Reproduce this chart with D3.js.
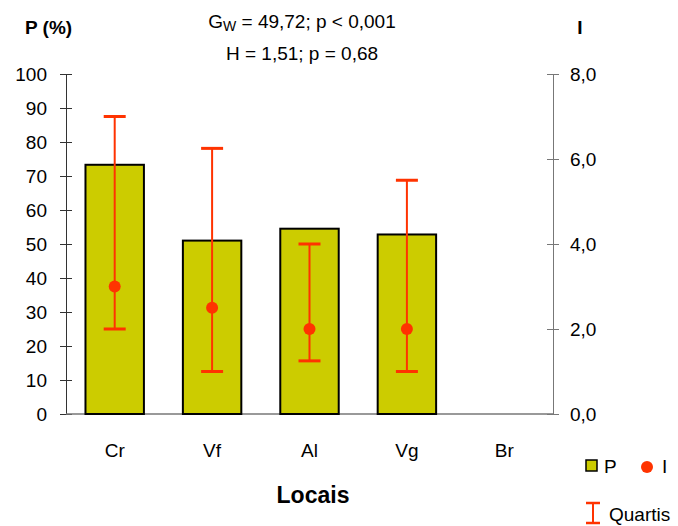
<!DOCTYPE html>
<html>
<head>
<meta charset="utf-8">
<script src="https://cdn.jsdelivr.net/npm/d3@7"></script>
<style>
  body { margin: 0; background: #fff; }
  text { font-family: "Liberation Sans", Arial, sans-serif; fill: #000; }
</style>
</head>
<body>
<div id="chart"></div>
<script>
// data
var locais = ["Cr", "Vf", "Al", "Vg", "Br"];
var pValues = [73.3, 51.0, 54.5, 52.8, null];
var iMedian = [3.0, 2.5, 2.0, 2.0, null];
var iQ1 = [2.0, 1.0, 1.25, 1.0, null];
var iQ3 = [7.0, 6.25, 4.0, 5.5, null];
var leftTicks = [0, 10, 20, 30, 40, 50, 60, 70, 80, 90, 100];
var rightTicks = [0, 2, 4, 6, 8];

var width = 678, height = 526;
var plotL = 66, plotR = 553, plotT = 74, plotB = 414;
var barColor = "#cccc00", errColor = "#ff3300";
var fs = "19px";

var svg = d3.select("#chart").append("svg")
  .attr("width", width).attr("height", height);

var x = d3.scaleBand().domain(locais).range([plotL, plotR]).paddingInner(0.4).paddingOuter(0.2);
var yP = d3.scaleLinear().domain([0, 100]).range([plotB, plotT]);
var yI = d3.scaleLinear().domain([0, 8]).range([plotB, plotT]);

var comma = function(d) { return d3.format(".1f")(d).replace(".", ","); };

// left axis
var gl = svg.append("g").attr("transform", "translate(" + plotL + ",0)")
  .call(d3.axisLeft(yP).tickValues(leftTicks).tickSizeInner(6).tickSizeOuter(0).tickPadding(13));
gl.select(".domain").attr("stroke", "#333");
gl.selectAll(".tick line").attr("stroke", "#333").attr("x2", 6).attr("x1", -6);
gl.selectAll(".tick text").style("font-size", fs);

// right axis
var gr = svg.append("g").attr("transform", "translate(" + plotR + ",0)")
  .call(d3.axisRight(yI).tickValues(rightTicks).tickFormat(comma).tickSizeInner(6).tickSizeOuter(0).tickPadding(11));
gr.select(".domain").attr("stroke", "#777");
gr.selectAll(".tick line").attr("stroke", "#777").attr("x1", -6).attr("x2", 6);
gr.selectAll(".tick text").style("font-size", fs);

// baseline + category labels
svg.append("line").attr("x1", plotL).attr("x2", plotR).attr("y1", plotB).attr("y2", plotB)
  .attr("stroke", "#777").attr("stroke-width", 1.5);
svg.selectAll(".xlab").data(locais).enter().append("text")
  .attr("x", function(d) { return x(d) + x.bandwidth() / 2; })
  .attr("y", 457)
  .attr("text-anchor", "middle").style("font-size", fs)
  .text(function(d) { return d; });

// bars
var rows = locais.map(function(d, i) {
  return { loc: d, p: pValues[i], med: iMedian[i], q1: iQ1[i], q3: iQ3[i] };
});
svg.selectAll(".bar").data(rows.filter(function(d) { return d.p != null; })).enter().append("rect")
  .attr("x", function(d) { return x(d.loc); })
  .attr("y", function(d) { return yP(d.p); })
  .attr("width", x.bandwidth())
  .attr("height", function(d) { return plotB - yP(d.p); })
  .attr("fill", barColor).attr("stroke", "#000").attr("stroke-width", 2);

// quartile whiskers + medians
var er = svg.selectAll(".err").data(rows.filter(function(d) { return d.med != null; })).enter().append("g");
var cx = function(d) { return x(d.loc) + x.bandwidth() / 2; };
er.append("line")
  .attr("x1", cx).attr("x2", cx)
  .attr("y1", function(d) { return yI(d.q1); }).attr("y2", function(d) { return yI(d.q3); })
  .attr("stroke", errColor).attr("stroke-width", 2);
er.selectAll(".cap").data(function(d) { return [d.q1, d.q3].map(function(v) { return { loc: d.loc, v: v }; }); })
  .enter().append("line")
  .attr("x1", function(d) { return cx(d) - 11; }).attr("x2", function(d) { return cx(d) + 11; })
  .attr("y1", function(d) { return yI(d.v); }).attr("y2", function(d) { return yI(d.v); })
  .attr("stroke", errColor).attr("stroke-width", 3);
er.append("circle")
  .attr("cx", cx).attr("cy", function(d) { return yI(d.med); })
  .attr("r", 6).attr("fill", errColor);

// titles
svg.append("text").attr("x", 25).attr("y", 34).style("font-size", "19px").style("font-weight", "bold").text("P (%)");
svg.append("text").attr("x", 580).attr("y", 34).attr("text-anchor", "middle").style("font-size", "19px").style("font-weight", "bold").text("I");
var t1 = svg.append("text").attr("x", 302).attr("y", 28).attr("text-anchor", "middle").style("font-size", "19px");
t1.append("tspan").text("G");
t1.append("tspan").attr("dy", 3).style("font-size", "14px").text("W");
t1.append("tspan").attr("dy", -3).text(" = 49,72; p < 0,001");
svg.append("text").attr("x", 302).attr("y", 60).attr("text-anchor", "middle").style("font-size", "19px").text("H = 1,51; p = 0,68");
svg.append("text").attr("x", 313).attr("y", 503).attr("text-anchor", "middle").style("font-size", "23px").style("font-weight", "bold").text("Locais");

// legend
svg.append("rect").attr("x", 586).attr("y", 460).attr("width", 11).attr("height", 11)
  .attr("fill", barColor).attr("stroke", "#000").attr("stroke-width", 1.5);
svg.append("text").attr("x", 604).attr("y", 473).style("font-size", fs).text("P");
svg.append("circle").attr("cx", 647).attr("cy", 467).attr("r", 6).attr("fill", errColor);
svg.append("text").attr("x", 662).attr("y", 473).style("font-size", fs).text("I");
var lg = svg.append("g").attr("stroke", errColor);
lg.append("line").attr("x1", 593).attr("x2", 593).attr("y1", 503).attr("y2", 523).attr("stroke-width", 2);
lg.append("line").attr("x1", 586).attr("x2", 600).attr("y1", 503).attr("y2", 503).attr("stroke-width", 2.5);
lg.append("line").attr("x1", 586).attr("x2", 600).attr("y1", 523).attr("y2", 523).attr("stroke-width", 2.5);
svg.append("text").attr("x", 609).attr("y", 521).style("font-size", fs).text("Quartis");
</script>
</body>
</html>
